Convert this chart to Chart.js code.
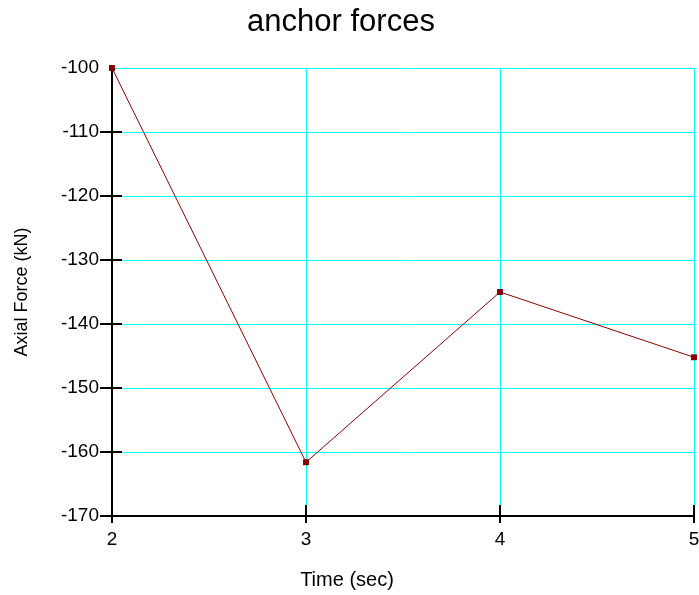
<!DOCTYPE html>
<html>
<head>
<meta charset="utf-8">
<script src="https://cdn.jsdelivr.net/npm/chart.js@4/dist/chart.umd.min.js"></script>
<style>
  html, body { margin: 0; padding: 0; background: #fff; }
  #wrap { width: 699px; height: 595px; }
</style>
</head>
<body>
<div id="wrap"><canvas id="c" width="699" height="595"></canvas></div>
<script>
// Anchor axial force over time
const chartTitle = 'anchor forces';
const xAxisTitle = 'Time (sec)';
const yAxisTitle = 'Axial Force (kN)';
const timeSec = [2, 3, 4, 5];
const axialForceKN = [-100, -161.6, -135, -145.2];
const xRange = [2, 5];
const yRange = [-170, -100];

const FONT = "'Liberation Sans', Arial, Helvetica, sans-serif";

// Short black tick marks that cross the axis lines
const crossTicks = {
  id: 'crossTicks',
  afterDatasetsDraw(chart) {
    const ctx = chart.ctx;
    const xs = chart.scales.x, ys = chart.scales.y;
    const axisX = chart.chartArea.left, axisY = chart.chartArea.bottom;
    ctx.save();
    ctx.strokeStyle = '#000';
    ctx.lineWidth = 2;
    ctx.beginPath();
    ys.ticks.forEach(t => {
      if (t.value === yRange[1]) return;
      const y = Math.round(ys.getPixelForValue(t.value));
      ctx.moveTo(axisX - 12, y);
      ctx.lineTo(axisX + 10, y);
    });
    xs.ticks.forEach(t => {
      const x = Math.round(xs.getPixelForValue(t.value));
      ctx.moveTo(x, axisY - 11);
      ctx.lineTo(x, axisY + 7);
    });
    ctx.stroke();
    ctx.restore();
  }
};

// Small left shift for the main title
const titleShift = {
  id: 'titleShift',
  afterInit(chart) {
    const tb = chart.titleBlock;
    if (!tb) return;
    const orig = tb.draw.bind(tb);
    tb.draw = function () {
      const ctx = chart.ctx;
      ctx.save();
      ctx.translate(-6, 0);
      orig();
      ctx.restore();
    };
  }
};

new Chart(document.getElementById('c'), {
  type: 'line',
  data: {
    datasets: [{
      data: timeSec.map((t, i) => ({ x: t, y: axialForceKN[i] })),
      borderColor: '#8b0000',
      borderWidth: 1,
      backgroundColor: '#800000',
      pointStyle: 'rect',
      pointRadius: 4.2,
      pointHoverRadius: 4.2,
      pointBackgroundColor: '#800000',
      pointBorderColor: '#800000',
      pointBorderWidth: 0,
      tension: 0,
      fill: false,
      clip: false
    }]
  },
  options: {
    responsive: false,
    animation: false,
    events: [],
    layout: { padding: { left: 0, right: 5, top: 0, bottom: 0 } },
    plugins: {
      legend: { display: false },
      tooltip: { enabled: false },
      title: {
        display: true,
        text: chartTitle,
        color: '#000',
        font: { family: FONT, size: 31, weight: 'normal' },
        padding: { top: 3.5, bottom: 27.3 }
      },
      subtitle: {
        display: true,
        position: 'bottom',
        text: xAxisTitle,
        color: '#000',
        font: { family: FONT, size: 20, weight: 'normal' },
        padding: { top: 11, bottom: 3 }
      }
    },
    scales: {
      x: {
        type: 'linear',
        min: xRange[0],
        max: xRange[1],
        ticks: {
          stepSize: 1,
          color: '#000',
          padding: 12,
          font: { family: FONT, size: 19 }
        },
        grid: { color: '#00ffff', lineWidth: 1, drawTicks: false },
        border: { color: '#000', width: 2 },
        afterFit(s) { s.height = 41; s.paddingLeft = 0; s.paddingRight = 0; }
      },
      y: {
        min: yRange[0],
        max: yRange[1],
        ticks: {
          stepSize: 10,
          color: '#000',
          padding: 13,
          font: { family: FONT, size: 19 }
        },
        grid: { color: '#00ffff', lineWidth: 1, drawTicks: false },
        border: { color: '#000', width: 2 },
        title: {
          display: true,
          text: yAxisTitle,
          color: '#000',
          font: { family: FONT, size: 18 },
          padding: { top: 11, bottom: 0 }
        },
        afterFit(s) { s.width = 112; }
      }
    }
  },
  plugins: [crossTicks, titleShift]
});
</script>
</body>
</html>
